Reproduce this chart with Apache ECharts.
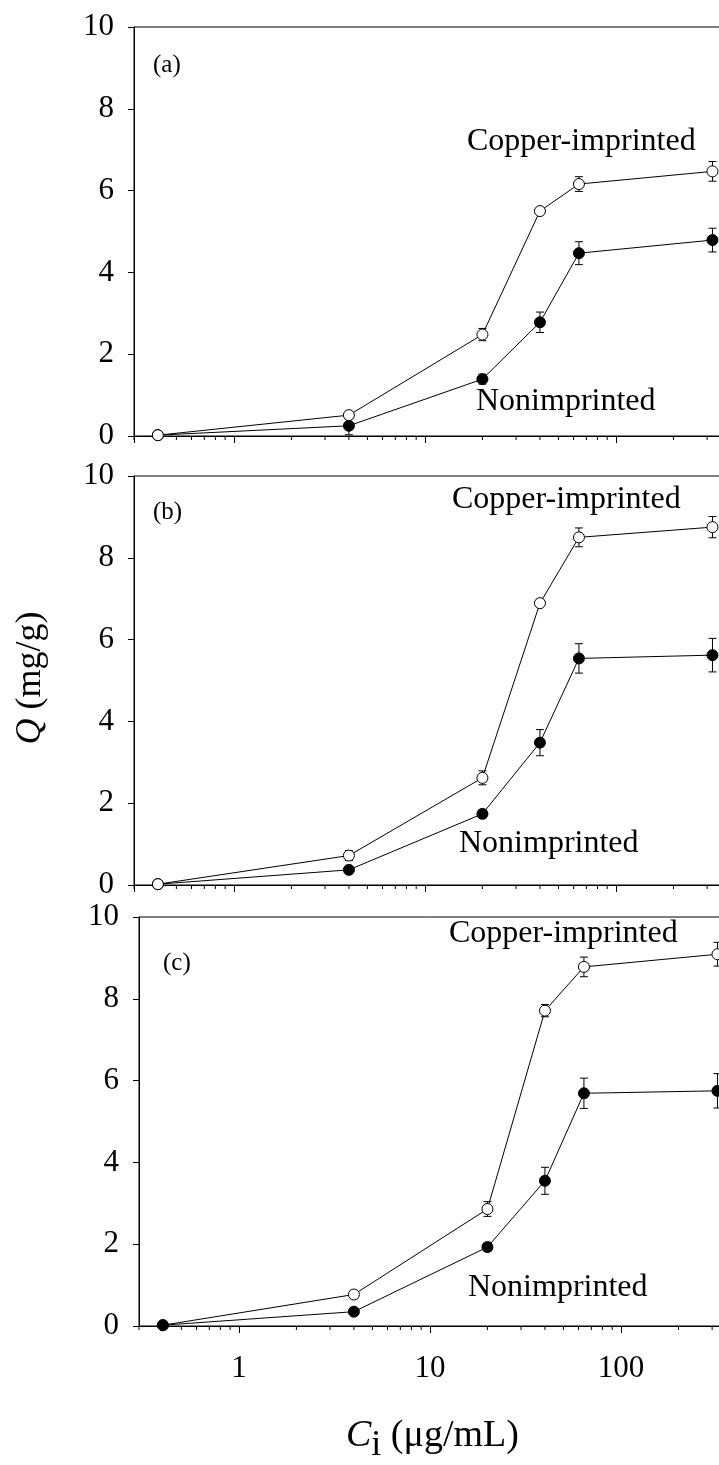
<!DOCTYPE html>
<html><head><meta charset="utf-8">
<script src="https://cdn.jsdelivr.net/npm/echarts@6/dist/echarts.min.js"></script>
<style>html,body{margin:0;padding:0;background:#fff}#c{width:719px;height:1465px}</style>
</head><body><div id="c"></div>
<script>
// ---- data ----
const concentrations = [0.4, 4, 20, 40, 64, 320];
const copperA    = [0.02, 0.51, 2.48, 5.50, 6.16, 6.47];
const copperAErr = [0.03, 0.08, 0.15, 0.06, 0.18, 0.24];
const nonA       = [0.02, 0.25, 1.39, 2.78, 4.47, 4.79];
const nonAErr    = [0.02, 0.22, 0.12, 0.25, 0.28, 0.29];
const copperB    = [0.02, 0.72, 2.62, 6.89, 8.50, 8.75];
const copperBErr = [0.02, 0.12, 0.17, 0.08, 0.23, 0.26];
const nonB       = [0.02, 0.37, 1.74, 3.48, 5.54, 5.62];
const nonBErr    = [0.02, 0.05, 0.10, 0.32, 0.36, 0.41];
const copperC    = [0.02, 0.77, 2.86, 7.71, 8.78, 9.09];
const copperCErr = [0.02, 0.10, 0.18, 0.15, 0.24, 0.29];
const nonC       = [0.02, 0.35, 1.93, 3.55, 5.69, 5.75];
const nonCErr    = [0.02, 0.05, 0.10, 0.33, 0.37, 0.42];
const panelLabels = ['(a)', '(b)', '(c)'];
const xTickLabels = ['1', '10', '100'];
const yMin = 0, yMax = 10, yInterval = 2;
const xMin = 0.3, xMax = 1000;
const seriesNames = ['Copper-imprinted', 'Nonimprinted'];

const FONT = '"Liberation Serif", "Times New Roman", serif';
// minor tick values on the log axis (2..9 of each decade)
const minorTicks = [];
[0.1, 1, 10, 100].forEach(d => { for (let k = 2; k <= 9; k++) { const v = +(k * d).toFixed(6); if (v > xMin && v < xMax && Math.abs(Math.log10(v) - Math.round(Math.log10(v))) > 1e-9) minorTicks.push(v); } });
if (!minorTicks.includes(xMin)) minorTicks.unshift(xMin);

const panels = [
  { cu: copperA, cuE: copperAErr, non: nonA, nonE: nonAErr, top: 27, left: 134, filledOnTop: false, showX: false },
  { cu: copperB, cuE: copperBErr, non: nonB, nonE: nonBErr, top: 476, left: 134, filledOnTop: false, showX: false },
  { cu: copperC, cuE: copperCErr, non: nonC, nonE: nonCErr, top: 917, left: 139, filledOnTop: true, showX: true }
];

function errRender(params, api) {
  const x = api.value(0), y = api.value(1), e = api.value(2);
  const t = api.coord([x, y + e]), b = api.coord([x, y - e]);
  const cap = 4, st = { stroke: '#000', lineWidth: 1 };
  return { type: 'group', children: [
    { type: 'line', shape: { x1: t[0], y1: t[1], x2: b[0], y2: b[1] }, style: st },
    { type: 'line', shape: { x1: t[0] - cap, y1: t[1], x2: t[0] + cap, y2: t[1] }, style: st },
    { type: 'line', shape: { x1: b[0] - cap, y1: b[1], x2: b[0] + cap, y2: b[1] }, style: st }
  ]};
}
function minorRender(params, api) {
  const p = api.coord([api.value(0), yMin]);
  return { type: 'line', shape: { x1: p[0], y1: p[1], x2: p[0], y2: p[1] + 4 }, style: { stroke: '#000', lineWidth: 1 } };
}

const grids = [], xAxes = [], yAxes = [], series = [];
panels.forEach((p, i) => {
  grids.push({ left: p.left, top: p.top, width: 673, height: 409, show: true, borderColor: '#000', borderWidth: 1,
    containLabel: false, outerBoundsMode: 'none' });
  xAxes.push({
    type: 'log', logBase: 10, gridIndex: i, min: xMin, max: xMax,
    axisLine: { show: true, onZero: false, lineStyle: { color: '#000', width: 1 } },
    axisTick: { show: true, inside: false, length: 7, lineStyle: { color: '#000' } },
    splitLine: { show: false },
    axisLabel: {
      show: p.showX, showMinLabel: false, showMaxLabel: false, margin: 27,
      fontFamily: FONT, fontSize: 31, color: '#000',
      formatter: v => { const s = String(+v.toPrecision(6)); return xTickLabels.includes(s) ? s : ''; }
    }
  });
  yAxes.push({
    type: 'value', gridIndex: i, min: yMin, max: yMax, interval: yInterval,
    axisLine: { show: true, lineStyle: { color: '#000', width: 1 } },
    axisTick: { show: true, inside: false, length: 6, lineStyle: { color: '#000' } },
    splitLine: { show: false },
    axisLabel: { margin: 20, fontFamily: FONT, fontSize: 31, color: '#000' }
  });
  const mk = (arr, err) => concentrations.map((x, j) => [x, arr[j], err[j]]);
  series.push({ type: 'custom', xAxisIndex: i, yAxisIndex: i, renderItem: minorRender, clip: false, silent: true, z: 1,
    data: minorTicks.map(v => [v]) });
  series.push({ type: 'custom', xAxisIndex: i, yAxisIndex: i, renderItem: errRender, clip: false, silent: true, z: 2, data: mk(p.cu, p.cuE) });
  series.push({ type: 'custom', xAxisIndex: i, yAxisIndex: i, renderItem: errRender, clip: false, silent: true, z: 2, data: mk(p.non, p.nonE) });
  const cuS = { name: seriesNames[0], type: 'line', xAxisIndex: i, yAxisIndex: i, z: 3, clip: false,
    data: concentrations.map((x, j) => [x, p.cu[j]]), symbol: 'circle', symbolSize: 11,
    lineStyle: { color: '#000', width: 1 }, itemStyle: { color: '#fff', borderColor: '#000', borderWidth: 1 }, animation: false };
  const nonS = { name: seriesNames[1], type: 'line', xAxisIndex: i, yAxisIndex: i, z: 3, clip: false,
    data: concentrations.map((x, j) => [x, p.non[j]]), symbol: 'circle', symbolSize: 11,
    lineStyle: { color: '#000', width: 1 }, itemStyle: { color: '#000', borderColor: '#000', borderWidth: 1 }, animation: false };
  if (p.filledOnTop) series.push(cuS, nonS); else series.push(nonS, cuS);
});

const txt = (x, y, text, size, extra) => Object.assign({ type: 'text', x: x, y: y, silent: true,
  style: Object.assign({ text: text, fontFamily: FONT, fontSize: size, fill: '#000', align: 'left', verticalAlign: 'middle' }, extra || {}) });
const graphics = [
  txt(153, 65, panelLabels[0], 25), txt(153, 512, panelLabels[1], 25), txt(163, 963, panelLabels[2], 25),
  txt(467, 142, seriesNames[0], 32), txt(476, 402, seriesNames[1], 32),
  txt(452, 500, seriesNames[0], 32), txt(459, 844, seriesNames[1], 32),
  txt(449, 934, seriesNames[0], 32), txt(468, 1288, seriesNames[1], 32),
  { type: 'text', x: 31, y: 678, rotation: Math.PI / 2, silent: true,
    style: { text: '{q|Q} (mg/g)', fontFamily: FONT, fontSize: 36, fill: '#000', align: 'center', verticalAlign: 'middle',
      rich: { q: { fontFamily: FONT, fontSize: 36, fontStyle: 'italic', fill: '#000' } } } },
  { type: 'text', x: 346, y: 1417, silent: true,
    style: { text: '{c|C}{s|i}{r| (μg/mL)}', fontFamily: FONT, fontSize: 38, fill: '#000', align: 'left', verticalAlign: 'top',
      rich: {
        c: { fontFamily: FONT, fontSize: 38, fontStyle: 'italic', fill: '#000', verticalAlign: 'top', lineHeight: 40 },
        s: { fontFamily: FONT, fontSize: 36, fill: '#000', verticalAlign: 'top', lineHeight: 40, padding: [11, 0, 0, 0] },
        r: { fontFamily: FONT, fontSize: 38, fill: '#000', verticalAlign: 'top', lineHeight: 40 }
      } } }
];

const chart = echarts.init(document.getElementById('c'), null, { renderer: 'canvas' });
chart.setOption({ animation: false, backgroundColor: '#fff', grid: grids, xAxis: xAxes, yAxis: yAxes, series: series, graphic: graphics });
</script></body></html>
